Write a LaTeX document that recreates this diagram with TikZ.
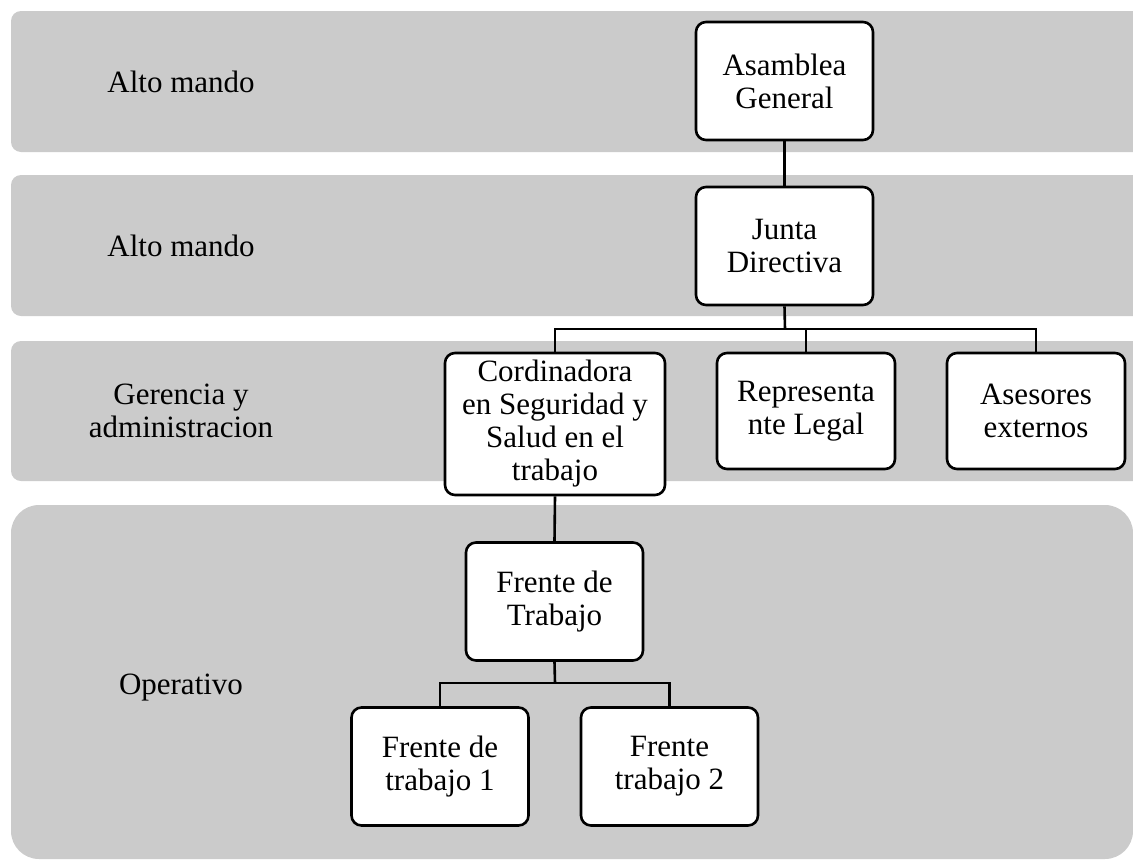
\documentclass[tikz,border=0pt]{standalone}
\usepackage{fontspec}
\setmainfont{Liberation Serif}
\definecolor{bandgray}{HTML}{CBCBCB}
\begin{document}
\begin{tikzpicture}[x=1pt,y=-1pt,
  band/.style={fill=bandgray,draw=none},
  orgbox/.style={draw=black,fill=white,line width=2.6pt,rounded corners=10pt,
    minimum width=177pt,minimum height=118pt,inner sep=2pt,align=center,
    font=\fontsize{31}{33}\selectfont},
  bandlabel/.style={align=center,font=\fontsize{31}{33}\selectfont},
  link/.style={line width=2.6pt}]
\useasboundingbox (0,0) rectangle (1133,860);
\clip (0,0) rectangle (1133,860);
% bands
\fill[band,rounded corners=10pt] (11,11) rectangle (1160,152);
\fill[band,rounded corners=10pt] (11,175) rectangle (1160,316);
\fill[band,rounded corners=10pt] (11,341) rectangle (1160,481);
\fill[band,rounded corners=28pt] (11,505) rectangle (1133,859);
% band labels
\node[bandlabel] (l1) at (181,81.5) {Alto mando};
\node[bandlabel] (l2) at (181,245.5) {Alto mando};
\node[bandlabel] (l3) at (181,411) {Gerencia y\\administracion};
\node[bandlabel] (l4) at (181,688) {Operativo};
% boxes
\node[orgbox] (ag) at (784.5,81) {Asamblea\\General};
\node[orgbox] (jd) at (784.5,246) {Junta\\Directiva};
\node[orgbox,minimum width=220pt,minimum height=142pt] (cs) at (555,424) {Cordinadora\\en Seguridad y\\Salud en el\\trabajo};
\node[orgbox,minimum width=178pt,minimum height=116pt] (rl) at (806,411) {Representa\\nte Legal};
\node[orgbox,minimum width=178pt,minimum height=116pt] (ae) at (1036,411) {Asesores\\externos};
\node[orgbox] (ft) at (554.5,601.5) {Frente de\\Trabajo};
\node[orgbox] (f1) at (440,766.5) {Frente de\\trabajo 1};
\node[orgbox] (f2) at (669.5,766.5) {Frente\\trabajo 2};
% connectors
\coordinate (b1) at (785,329);
\coordinate (b2) at (555,683);
\draw[link] (ag.south) -- (jd.north);
\draw[link] (jd.south) -- (b1);
\draw[link] (cs.north) |- (b1);
\draw[link] (b1) -| (rl.north);
\draw[link] (b1) -| (ae.north);
\draw[link] (cs.south) -- (ft.north);
\draw[link] (ft.south) -- (b2);
\draw[link] (b2) -| (f1.north);
\draw[link] (b2) -| (f2.north);
\end{tikzpicture}
\end{document}
